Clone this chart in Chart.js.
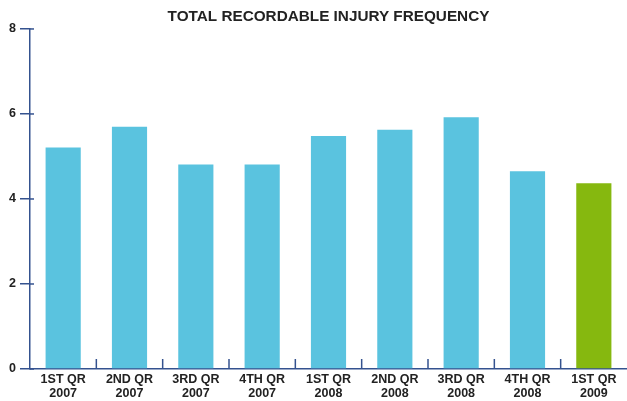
<!DOCTYPE html>
<html>
<head>
<meta charset="utf-8">
<script src="https://cdn.jsdelivr.net/npm/chart.js@4"></script>
<style>
  html, body { margin: 0; padding: 0; background: #fff; }
  #wrap { width: 627px; height: 401px; position: relative; }
</style>
</head>
<body>
<div id="wrap"><canvas id="c" width="627" height="401"></canvas></div>
<script>
const categories = [
  ["1ST QR", "2007"], ["2ND QR", "2007"], ["3RD QR", "2007"], ["4TH QR", "2007"],
  ["1ST QR", "2008"], ["2ND QR", "2008"], ["3RD QR", "2008"], ["4TH QR", "2008"],
  ["1ST QR", "2009"]
];
const values = [5.21, 5.70, 4.81, 4.81, 5.48, 5.63, 5.92, 4.65, 4.37];
const barColors = ["#5AC3DF","#5AC3DF","#5AC3DF","#5AC3DF","#5AC3DF","#5AC3DF","#5AC3DF","#5AC3DF","#86B80F"];
const yTicks = [0, 2, 4, 6, 8];
const titleText = "TOTAL RECORDABLE INJURY FREQUENCY";

const AXIS = "#34528F";
const FONT = "'Liberation Sans', Arial, sans-serif";

const axisDecor = {
  id: "axisDecor",
  afterDraw(chart) {
    const ctx = chart.ctx;
    const x = chart.scales.x, y = chart.scales.y;
    const area = chart.chartArea;
    ctx.save();
    ctx.strokeStyle = AXIS;
    ctx.lineWidth = 1.5;
    yTicks.forEach(v => {
      const py = y.getPixelForValue(v);
      ctx.beginPath();
      ctx.moveTo(area.left, py);
      ctx.lineTo(area.left + 4, py);
      ctx.stroke();
    });
    for (let i = 1; i < categories.length; i++) {
      const px = (x.getPixelForTick(i - 1) + x.getPixelForTick(i)) / 2;
      ctx.beginPath();
      ctx.moveTo(px, area.bottom);
      ctx.lineTo(px, area.bottom - 10);
      ctx.stroke();
    }
    ctx.restore();
  }
};

new Chart(document.getElementById("c"), {
  type: "bar",
  data: {
    labels: categories,
    datasets: [{
      data: values,
      backgroundColor: barColors,
      borderWidth: 0,
      barPercentage: 0.53,
      categoryPercentage: 1.0
    }]
  },
  options: {
    responsive: false,
    animation: false,
    layout: { padding: { left: 0, right: 0, top: 0, bottom: 0 } },
    plugins: {
      legend: { display: false },
      tooltip: { enabled: false },
      title: {
        display: true,
        text: titleText,
        fullSize: false,
        color: "#222",
        font: { family: FONT, size: 15.3, weight: "bold" },
        padding: { top: 8, bottom: 2.6 }
      }
    },
    scales: {
      x: {
        offset: true,
        grid: { display: true, drawOnChartArea: false, drawTicks: false, color: "rgba(0,0,0,0)" },
        border: { display: true, color: AXIS, width: 1.5 },
        ticks: {
          color: "#222",
          padding: 4,
          maxRotation: 0,
          autoSkip: false,
          font: { family: FONT, size: 12.5, weight: "bold", lineHeight: 1.12 }
        },
        afterFit(s) { s.height = 32; }
      },
      y: {
        min: 0,
        max: 8,
        afterBuildTicks(s) { s.ticks = yTicks.map(v => ({ value: v })); },
        grid: { drawOnChartArea: false, drawTicks: true, tickLength: 10, color: AXIS, lineWidth: 1.5 },
        border: { display: true, color: AXIS, width: 1.5 },
        ticks: {
          color: "#222",
          padding: 4,
          font: { family: FONT, size: 12.5, weight: "bold" }
        },
        afterFit(s) { s.width = 30; }
      }
    }
  },
  plugins: [axisDecor]
});
</script>
</body>
</html>
